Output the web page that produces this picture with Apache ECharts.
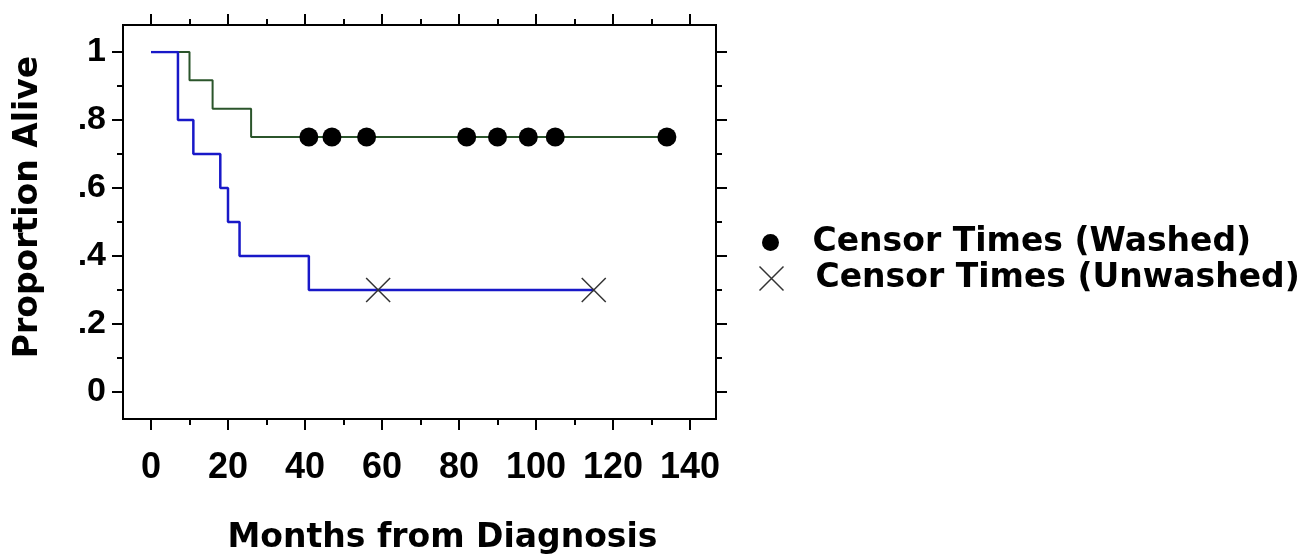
<!DOCTYPE html>
<html><head><meta charset="utf-8">
<script src="https://cdn.jsdelivr.net/npm/echarts@6/dist/echarts.min.js"></script>
<style>html,body{margin:0;padding:0;background:#fff}#c{width:1304px;height:554px}</style>
</head><body><div id="c"></div>
<script>
// Kaplan-Meier step curves (time in months, proportion alive)
const washedTimes = [0, 10, 16, 26, 134];
const washedSurv = [1, 0.917, 0.833, 0.75, 0.75];
const unwashedTimes = [0, 7, 11, 18, 20, 23, 41, 115];
const unwashedSurv = [1, 0.8, 0.7, 0.6, 0.5, 0.4, 0.3, 0.3];
// Censor times
const washedCensorTimes = [41, 47, 56, 82, 90, 98, 105, 134];
const washedCensorSurv = [0.75, 0.75, 0.75, 0.75, 0.75, 0.75, 0.75, 0.75];
const unwashedCensorTimes = [59, 115];
const unwashedCensorSurv = [0.3, 0.3];
// Axes
const xRange = [0, 140], xStep = 20;
const yRange = [0, 1], yStep = 0.2;
const legendNames = ['Censor Times (Washed)', 'Censor Times (Unwashed)'];

const zip = (a, b) => a.map((v, i) => [v, b[i]]);
const tickFont = {color: '#000', fontFamily: 'Liberation Sans', fontWeight: 'bold'};
const titleFont = {color: '#000', fontFamily: 'DejaVu Sans', fontWeight: 'bold'};
const tickLine = {color: '#000', width: 2};

function xAx(pos, labels) {
  return {
    type: 'value', gridIndex: 0, position: pos, offset: 27,
    min: xRange[0], max: xRange[1], interval: xStep,
    axisLine: {show: false, onZero: false},
    axisTick: {show: true, length: 11, lineStyle: tickLine},
    minorTick: {show: true, splitNumber: 2, length: 6, lineStyle: tickLine},
    splitLine: {show: false}, minorSplitLine: {show: false},
    axisLabel: labels ? Object.assign({show: true, margin: 31, fontSize: 36}, tickFont) : {show: false}
  };
}
function yAx(pos, off, labels) {
  return {
    type: 'value', gridIndex: 0, position: pos, offset: off,
    min: yRange[0], max: yRange[1], interval: yStep,
    axisLine: {show: false, onZero: false},
    axisTick: {show: true, length: 11, lineStyle: tickLine},
    minorTick: {show: true, splitNumber: 2, length: 6, lineStyle: tickLine},
    splitLine: {show: false}, minorSplitLine: {show: false},
    axisLabel: labels ? Object.assign({
      show: true, margin: 17, fontSize: 34,
      formatter: v => v <= 0 ? '0' : (v >= 1 ? '1' : '.' + Math.round(v * 10))
    }, tickFont) : {show: false}
  };
}

const xBottom = xAx('bottom', true);
Object.assign(xBottom, {
  name: 'Months from Diagnosis', nameLocation: 'middle', nameGap: 103,
  nameTextStyle: Object.assign({fontSize: 33, padding: [0, 0, 0, 44]}, titleFont)
});
const yLeft = yAx('left', 28, true);
Object.assign(yLeft, {
  name: 'Proportion Alive', nameLocation: 'middle', nameGap: 78, nameRotate: 90,
  nameTextStyle: Object.assign({fontSize: 33, padding: [0, 0, 0, 30]}, titleFont)
});

const legendText = Object.assign({fontSize: 33}, titleFont);
const xPath = 'path://M0,0L24,24M24,0L0,24';

const option = {
  animation: false,
  backgroundColor: '#fff',
  grid: [
    {left: 151, right: 614, top: 52, bottom: 162, outerBoundsMode: 'none', containLabel: false},
    {left: 123, right: 588, top: 25, bottom: 135, outerBoundsMode: 'none', show: true,
     borderColor: '#000', borderWidth: 2, backgroundColor: 'transparent'}
  ],
  xAxis: [xBottom, xAx('top', false)],
  yAxis: [yLeft, yAx('right', 26, false)],
  legend: [
    {data: [legendNames[0]], orient: 'vertical', left: 762, top: 226, padding: 0,
     itemWidth: 74, itemHeight: 17, symbolKeepAspect: true, selectedMode: false,
     itemStyle: {color: '#000', borderWidth: 0}, textStyle: legendText},
    {data: [legendNames[1]], orient: 'vertical', left: 757, top: 262, padding: 0,
     itemWidth: 78, itemHeight: 24, symbolKeepAspect: true, selectedMode: false,
     itemStyle: {color: 'none', borderColor: '#333', borderWidth: 1.5}, textStyle: legendText}
  ],
  series: [
    {name: 'Washed', type: 'line', step: 'end', data: zip(washedTimes, washedSurv),
     symbol: 'none', silent: true, lineStyle: {color: '#2b552b', width: 2}, z: 2},
    {name: 'Unwashed', type: 'line', step: 'end', data: zip(unwashedTimes, unwashedSurv),
     symbol: 'none', silent: true, lineStyle: {color: '#1818c8', width: 2.5}, z: 2},
    {name: legendNames[0], type: 'scatter', data: zip(washedCensorTimes, washedCensorSurv),
     symbol: 'circle', symbolSize: 19, itemStyle: {color: '#000', opacity: 1}, z: 3},
    {name: legendNames[1], type: 'scatter', data: zip(unwashedCensorTimes, unwashedCensorSurv),
     symbol: xPath, symbolSize: 24,
     itemStyle: {color: 'none', borderColor: '#333', borderWidth: 1.5, opacity: 1}, z: 3}
  ]
};
echarts.init(document.getElementById('c')).setOption(option);
</script></body></html>
